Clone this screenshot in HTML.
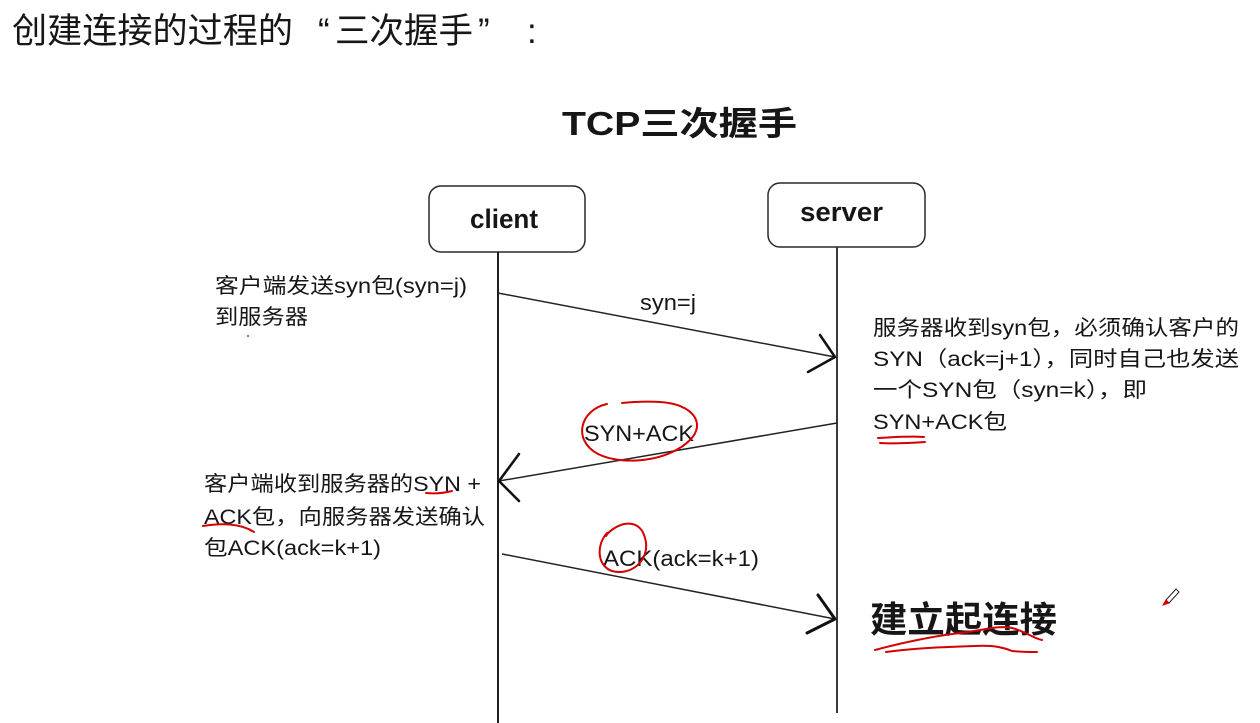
<!DOCTYPE html>
<html>
<head>
<meta charset="utf-8">
<style>
  html,body{margin:0;padding:0;background:#fff;}
  body{width:1260px;height:723px;overflow:hidden;}
  svg{display:block;}
  text{font-family:"Liberation Sans","Noto Sans CJK SC",sans-serif;fill:#161616;}
</style>
</head>
<body>
<svg width="1260" height="723" viewBox="0 0 1260 723" xmlns="http://www.w3.org/2000/svg">
  <rect x="0" y="0" width="1260" height="723" fill="#ffffff"/>

  <!-- Top heading -->
  <text x="12" y="43" font-size="35" textLength="281" lengthAdjust="spacingAndGlyphs">创建连接的过程的</text>
  <text x="318" y="43" font-size="35">“</text>
  <text x="335" y="43" font-size="35" textLength="138" lengthAdjust="spacingAndGlyphs">三次握手</text>
  <text x="478" y="43" font-size="35">”</text>
  <text x="527" y="43" font-size="35">:</text>

  <!-- Diagram title -->
  <text x="562" y="135" font-size="33" font-weight="bold" textLength="235" lengthAdjust="spacingAndGlyphs">TCP三次握手</text>

  <!-- Boxes -->
  <rect x="429" y="186" width="156" height="66" rx="12" ry="12" fill="#fff" stroke="#2a2a2a" stroke-width="1.5"/>
  <text x="470" y="228" font-size="27" font-weight="bold" textLength="68" lengthAdjust="spacingAndGlyphs">client</text>
  <rect x="768" y="183" width="157" height="64" rx="12" ry="12" fill="#fff" stroke="#2a2a2a" stroke-width="1.5"/>
  <text x="800" y="221" font-size="27" font-weight="bold" textLength="83" lengthAdjust="spacingAndGlyphs">server</text>

  <!-- Lifelines -->
  <line x1="498" y1="252" x2="498" y2="723" stroke="#1e1e1e" stroke-width="2"/>
  <line x1="837" y1="247" x2="837" y2="713" stroke="#3a3a3a" stroke-width="2"/>

  <!-- Arrow 1 -->
  <line x1="498" y1="293" x2="835" y2="357" stroke="#222" stroke-width="1.5"/>
  <path d="M820 335 L835 357 L808 372" fill="none" stroke="#111" stroke-width="2.5" stroke-linejoin="round" stroke-linecap="round"/>
  <text x="640" y="310" font-size="22" textLength="56" lengthAdjust="spacingAndGlyphs">syn=j</text>

  <!-- Arrow 2 -->
  <line x1="837" y1="423" x2="499" y2="481" stroke="#222" stroke-width="1.5"/>
  <path d="M519 454 L499 481 L519 501" fill="none" stroke="#111" stroke-width="2.5" stroke-linejoin="round" stroke-linecap="round"/>
  <text x="584" y="441" font-size="22" textLength="110" lengthAdjust="spacingAndGlyphs">SYN+ACK</text>

  <!-- Arrow 3 -->
  <line x1="502" y1="554" x2="835" y2="619" stroke="#222" stroke-width="1.5"/>
  <path d="M818 595 L835 619 L807 633" fill="none" stroke="#111" stroke-width="3" stroke-linejoin="round" stroke-linecap="round"/>
  <text x="603" y="566" font-size="22" textLength="156" lengthAdjust="spacingAndGlyphs">ACK(ack=k+1)</text>

  <!-- Left text 1 -->
  <text x="215" y="293" font-size="21" textLength="252" lengthAdjust="spacingAndGlyphs">客户端发送syn包(syn=j)</text>
  <text x="215" y="324" font-size="21" textLength="93" lengthAdjust="spacingAndGlyphs">到服务器</text>
  <circle cx="248" cy="336" r="1" fill="#555"/>

  <!-- Right text -->
  <text x="873" y="335" font-size="21" textLength="366" lengthAdjust="spacingAndGlyphs">服务器收到syn包，必须确认客户的</text>
  <text x="873" y="366" font-size="21" textLength="366" lengthAdjust="spacingAndGlyphs">SYN（ack=j+1），同时自己也发送</text>
  <text x="873" y="397" font-size="21" textLength="274" lengthAdjust="spacingAndGlyphs">一个SYN包（syn=k），即</text>
  <text x="873" y="429" font-size="21" textLength="134" lengthAdjust="spacingAndGlyphs">SYN+ACK包</text>

  <!-- Left text 2 -->
  <text x="204" y="491" font-size="21" textLength="277" lengthAdjust="spacingAndGlyphs">客户端收到服务器的SYN +</text>
  <text x="204" y="524" font-size="21" textLength="281" lengthAdjust="spacingAndGlyphs">ACK包，向服务器发送确认</text>
  <text x="204" y="555" font-size="21" textLength="177" lengthAdjust="spacingAndGlyphs">包ACK(ack=k+1)</text>

  <!-- Bottom right -->
  <text x="870" y="632" font-size="36" font-weight="bold" textLength="187" lengthAdjust="spacingAndGlyphs">建立起连接</text>

  <!-- Red annotations -->
  <g fill="none" stroke="#d40000" stroke-width="2" stroke-linecap="round" stroke-linejoin="round">
    <!-- ellipse around SYN+ACK -->
    <path d="M607 404 C580 410 572 440 598 454 C622 466 668 462 690 440 C706 424 694 404 660 402 C645 401 632 402 622 403"/>
    <!-- circle around ACK -->
    <path d="M607 533 C596 545 597 566 612 571 C630 576 648 562 646 543 C644 528 636 522 624 524 C616 526 608 532 606 536"/>
    <!-- underline SYN in left text -->
    <path d="M426 493 C435 494 444 493 452 491"/>
    <!-- underline ACK left text -->
    <path d="M203 526 C220 523 240 523 254 532"/>
    <!-- underline SYN server text -->
    <path d="M878 438 C895 437 910 436 924 437"/>
    <path d="M880 443 C895 444 910 443 925 442"/>
    <!-- scribble under 建立起连接 -->
    <path d="M875 650 C905 642 935 636 960 633 C985 630 1000 625 1012 628 C1025 631 1032 638 1042 640"/>
    <path d="M886 652 C915 648 945 647 975 646 C995 645 1005 648 1012 651 C1022 652 1030 652 1037 652"/>
  </g>

  <!-- pencil cursor -->
  <g>
    <path d="M1166 600 L1176 589 L1179 592 L1169 603 Z" fill="#fff" stroke="#222" stroke-width="1"/>
    <path d="M1163 605 L1166 600 L1169 603 Z" fill="#d40000" stroke="#d40000" stroke-width="1"/>
  </g>
</svg>
</body>
</html>
